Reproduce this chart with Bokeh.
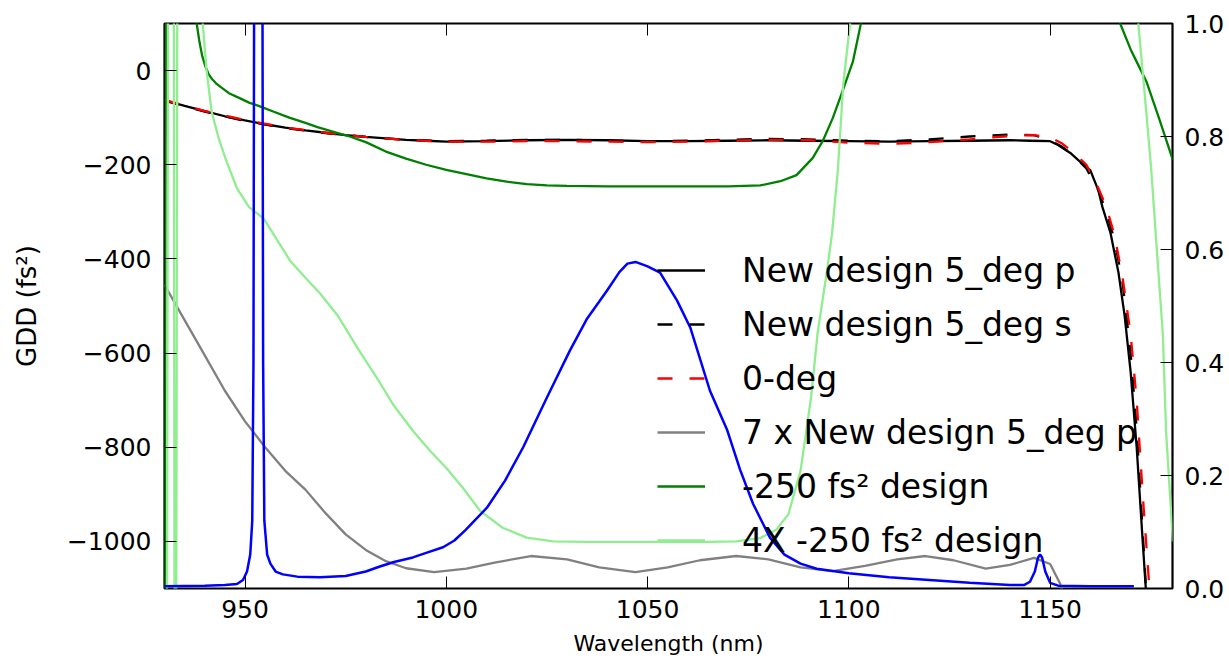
from bokeh.plotting import figure
from bokeh.models import Range1d, LinearAxis, FixedTicker, Legend, LegendItem
from bokeh.embed import file_html
from bokeh.resources import INLINE

# ---------------- data ----------------
lam_p = [930, 935, 940, 945, 950, 955, 960, 965, 970, 975, 980, 985, 990, 995, 1000,
         1010, 1020, 1030, 1040, 1050, 1060, 1070, 1080, 1090, 1100, 1110, 1120, 1130,
         1140, 1145, 1150, 1152, 1155, 1157, 1160, 1162, 1163, 1165, 1167, 1168.5, 1170,
         1171.5, 1173, 1174, 1174.5]
gdd_p = [-63, -75, -86, -97, -106, -114, -121, -127, -132, -137, -141, -144, -147, -149, -151,
         -150, -148, -147, -148, -150, -150, -149, -148, -149, -150, -151, -150, -149,
         -148, -149, -150, -158, -175, -190, -212, -255, -290, -345, -430, -520, -640,
         -800, -1000, -1130, -1200]

lam_s = [930, 940, 950, 960, 970, 980, 990, 1000, 1010, 1020, 1030, 1040, 1050, 1060, 1070,
         1080, 1090, 1100, 1110, 1120, 1130, 1140, 1146, 1150, 1153, 1156, 1159, 1162, 1164,
         1166, 1168, 1170, 1171.5, 1173, 1174.5]
gdd_s = [-64, -87, -107, -122, -133, -141, -147, -150, -149, -147, -147, -149, -150, -149, -147,
         -145, -146, -149, -150, -146, -140, -136, -137, -148, -162, -182, -208, -255, -300,
         -360, -450, -600, -760, -980, -1200]

lam_0 = [930, 940, 950, 960, 970, 980, 990, 1000, 1010, 1020, 1030, 1040, 1050, 1060, 1070,
         1080, 1090, 1100, 1110, 1120, 1130, 1140, 1146, 1150, 1153, 1156, 1159, 1161.5, 1164,
         1166, 1168, 1170, 1171.5, 1173, 1174.5, 1176]
gdd_0 = [-62, -86, -105, -121, -132, -141, -147, -151, -151, -150, -150, -151, -152, -151, -149,
         -147, -148, -153, -156, -152, -146, -139, -137, -142, -155, -175, -200, -240, -290,
         -350, -440, -560, -700, -900, -1080, -1220]

lam_7 = [930, 935, 940, 945, 950, 955, 960, 965, 970, 975, 980, 985, 990, 997, 1005, 1012,
         1021, 1030, 1038, 1047, 1055, 1063, 1072, 1080, 1088, 1096, 1104, 1112, 1119, 1126,
         1134, 1140, 1146, 1150, 1152.5, 1154]
gdd_7 = [-455, -530, -605, -680, -745, -800, -850, -890, -940, -985, -1018, -1042, -1057, -1065,
         -1058, -1045, -1031, -1038, -1055, -1065, -1055, -1040, -1031, -1038, -1055, -1063,
         -1052, -1038, -1031, -1040, -1058, -1050, -1035, -1048, -1090, -1130]

lam_g = [930.0, 930.4, 930.8, 937.0, 938.0, 938.7, 939.4, 940.2, 941.0, 941.8, 942.8, 944,
         946, 948.8, 951, 953.7, 957, 961, 965, 968, 972, 976, 980, 985, 990, 995, 1000, 1005,
         1010, 1015, 1020, 1025, 1030, 1040, 1050, 1060, 1070, 1078, 1083, 1087, 1091, 1093.5,
         1096, 1098.5, 1101, 1103, 1104, 1166, 1167.4, 1170, 1172, 1174, 1177, 1180.5]
gdd_g = [-1300, 200, 300, 300, 100, 60, 30, 8, -8, -18, -27, -35, -48, -59, -68, -76, -87,
         -100, -111, -120, -130, -140, -152, -172, -187, -200, -211, -220, -229, -236, -241,
         -244, -245, -246, -246, -246, -246, -244, -235, -222, -186, -150, -101, -42, 19, 100,
         200, 200, 100, 45, 10, -25, -100, -190]

lam_l = [930.0, 930.6, 930.9, 932.3, 932.5, 932.9, 933.2, 939.0, 939.5, 940.4, 941.7, 943.5,
         945.4, 948, 951, 954.6, 958, 961.3, 965, 968.8, 973, 978, 983.5, 987, 991.7, 996, 1000,
         1004, 1008.4, 1014, 1020, 1026.5, 1035, 1045, 1055, 1065, 1072, 1078, 1082, 1085, 1088,
         1090.6, 1092.3, 1094.5, 1095.8, 1097.3, 1098.6, 1100.3, 1101, 1171, 1171.9, 1173.5,
         1175.1, 1176.5, 1178, 1178.8, 1180.5]
gdd_l = [-1300, -1300, 300, 300, -1300, -1300, 300, 300, 100, 4, -87, -145, -193, -250, -290,
         -314, -360, -405, -440, -475, -520, -590, -663, -712, -765, -808, -844, -885, -935,
         -971, -992, -1000, -1001, -1001, -1001, -1001, -1000, -993, -975, -942, -850, -695,
         -553, -430, -348, -208, -30, 100, 250, 250, 100, -50, -208, -380, -560, -766, -1000]

lam_b = [930, 940, 945, 948, 949.5, 950.5, 951.3, 951.8, 952.1, 952.3, 953.3, 954.3, 954.5,
         954.8, 955.5, 956.3, 957.6, 959.4, 963, 968.6, 975, 980, 983.5, 987, 991.7, 995, 999.2,
         1002, 1004.7, 1010.1, 1014.6, 1019.1, 1025, 1030.7, 1035, 1039.9, 1043, 1045, 1047,
         1050, 1053.1, 1057.3, 1060.6, 1065.5, 1069.8, 1073, 1076.2, 1080.4, 1084, 1088, 1092,
         1100, 1110, 1120, 1130, 1140, 1143.5, 1145, 1146.2, 1147.0, 1147.5, 1148.0, 1148.8,
         1150, 1152, 1160, 1170.8]
trans_b = [0.004, 0.005, 0.006, 0.008, 0.015, 0.03, 0.06, 0.12, 0.4, 1.2, 2.0, 1.2, 0.4,
           0.12, 0.06, 0.044, 0.03, 0.025, 0.021, 0.02, 0.022, 0.03, 0.039, 0.047, 0.055, 0.063,
           0.073, 0.085, 0.103, 0.143, 0.191, 0.25, 0.338, 0.421, 0.478, 0.527, 0.56, 0.575,
           0.578, 0.57, 0.559, 0.51, 0.462, 0.35, 0.28, 0.21, 0.15, 0.09, 0.06, 0.044, 0.035,
           0.027, 0.02, 0.015, 0.01, 0.006, 0.006, 0.012, 0.03, 0.055, 0.06, 0.055, 0.03, 0.01,
           0.005, 0.004, 0.004]

x_ticks = [950, 1000, 1050, 1100, 1150]
y_ticks = [-1000, -800, -600, -400, -200, 0]
y_tick_labels = ["\u22121000", "\u2212800", "\u2212600", "\u2212400", "\u2212200", "0"]
r_ticks = [0.0, 0.2, 0.4, 0.6, 0.8, 1.0]
r_tick_labels = ["0.0", "0.2", "0.4", "0.6", "0.8", "1.0"]

labels = ["New design 5_deg p", "New design 5_deg s", "0-deg",
          "7 x New design 5_deg p", "-250 fs\u00b2 design", "4X -250 fs\u00b2 design"]

# ---------------- figure ----------------
FONT = "DejaVu Sans"
p = figure(width=1227, height=669, x_range=Range1d(930, 1180.4), y_range=Range1d(-1100, 100),
           output_backend="svg", toolbar_location=None,
           min_border_left=164, min_border_right=55, min_border_top=23, min_border_bottom=81)
p.extra_y_ranges = {"r": Range1d(0, 1)}
p.xgrid.grid_line_color = None
p.ygrid.grid_line_color = None
p.outline_line_color = "black"
p.outline_line_width = 2.2
p.background_fill_color = "white"
p.border_fill_color = "white"

def style_axis(ax, fs="25px"):
    ax.axis_line_color = None
    ax.major_tick_in = 12
    ax.major_tick_out = 0
    ax.major_tick_line_color = "black"
    ax.major_tick_line_width = 1
    ax.minor_tick_line_color = None
    ax.major_label_text_font = FONT
    ax.major_label_text_font_size = fs
    ax.major_label_text_color = "black"
    ax.axis_label_text_font = FONT
    ax.axis_label_text_font_size = "22px"
    ax.axis_label_text_font_style = "normal"
    ax.axis_label_text_color = "black"

xa = p.xaxis[0]
style_axis(xa)
xa.ticker = FixedTicker(ticks=x_ticks)
xa.axis_label = "Wavelength (nm)"
xa.major_label_standoff = 11
xa.axis_label_standoff = 10

ya = p.yaxis[0]
style_axis(ya)
ya.ticker = FixedTicker(ticks=y_ticks)
ya.major_label_overrides = {t: s for t, s in zip(y_ticks, y_tick_labels)}
ya.axis_label = "GDD (fs\u00b2)"
ya.axis_label_text_font_size = "26px"
ya.major_label_standoff = 13
ya.axis_label_standoff = 22

top = LinearAxis(ticker=FixedTicker(ticks=x_ticks))
style_axis(top)
top.major_label_overrides = {t: "" for t in x_ticks}
top.major_label_standoff = 0
p.add_layout(top, "above")

ra = LinearAxis(y_range_name="r", ticker=FixedTicker(ticks=r_ticks))
style_axis(ra)
ra.major_label_overrides = {t: s for t, s in zip(r_ticks, r_tick_labels)}
ra.major_label_standoff = 12
p.add_layout(ra, "right")

LW = 2.3
r1 = p.line(lam_p, gdd_p, line_color="black", line_width=LW)
r2 = p.line(lam_s, gdd_s, line_color="black", line_width=LW, line_dash="15 17")
r3 = p.line(lam_0, gdd_0, line_color="red", line_width=LW, line_dash="15 17")
r4 = p.line(lam_7, gdd_7, line_color="gray", line_width=LW)
r5 = p.line(lam_g, gdd_g, line_color="green", line_width=LW)
r6 = p.line(lam_l, gdd_l, line_color="lightgreen", line_width=LW)
p.line(lam_b, trans_b, line_color="blue", line_width=2.5, y_range_name="r")

legend = Legend(items=[LegendItem(label=l, renderers=[r]) for l, r in
                       zip(labels, [r1, r2, r3, r4, r5, r6])],
                location=(493, 21), orientation="vertical",
                glyph_width=48, glyph_height=54, label_height=54, label_standoff=37,
                spacing=0, padding=0, margin=0,
                border_line_color=None, background_fill_alpha=0,
                label_text_font=FONT, label_text_font_size="33px", label_text_color="black")
p.add_layout(legend, "center")

open("out.html", "w").write(file_html(p, INLINE))
